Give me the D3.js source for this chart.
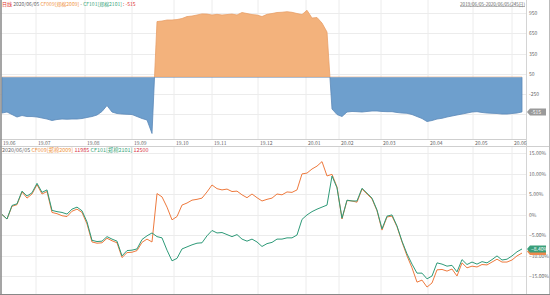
<!DOCTYPE html>
<html>
<head>
<meta charset="utf-8">
<script src="https://cdn.jsdelivr.net/npm/d3@7"></script>
<style>
  body { margin: 0; background: #fff; }
  svg { display: block; font-family: "Noto Sans CJK SC", "Noto Sans", sans-serif; }
</style>
</head>
<body>
<svg width="550" height="295"></svg>
<script>
// month ticks (position in sample index) and labels
var monthLabels = ["19.06","19.07","19.08","19.09","19.10","19.11","19.12","20.01","20.02","20.03","20.04","20.05","20.06"];
var monthIdx = [0, 7, 16.8, 26.2, 34.6, 42.2, 51.4, 61, 67.6, 76, 85.4, 94.4, 102.2];

// spread CF009 - CF101 (price points)
var spread = [
  -532,-517,-554,-591,-569,-584,-584,-591,-606,-621,
  -643,-628,-621,-624,-621,-621,-613,-598,-584,-561,
  -509,-421,-517,-539,-547,-551,-554,-584,-613,-635,
  -835, 823, 831, 846, 846, 853, 868, 897, 905, 920,
   937, 934, 920, 930, 920, 927, 934, 920, 957, 942,
   927, 920, 897, 930, 942, 957, 961, 969, 960, 942,
   927, 990, 875, 883, 801, 668,-472,-554,-584,-517,
  -509,-512,-517,-509,-502,-502,-509,-512,-512,-524,
  -532,-536,-554,-584,-613,-658,-643,-621,-610,-591,
  -576,-561,-547,-532,-517,-512,-524,-532,-536,-539,
  -547,-547,-539,-532,-515
];

// percent change, CF009
var cf009 = [
   0.0,-1.1, 2.0, 2.4, 5.5, 4.0, 5.0, 7.3, 5.0, 5.6,
   0.5, 0.2,-0.3,-0.5, 0.8, 1.3, 0.5,-2.3,-6.7,-7.0,
  -6.9,-5.8,-6.4,-6.9,-10.5,-9.3,-9.2,-8.8,-6.8,-6.0,
  -6.7, 5.1, 4.3, 1.8,-1.3,-0.5, 2.3, 2.8, 3.5, 3.7,
   4.0, 5.5, 7.2, 6.3, 6.0, 6.2, 5.6, 5.7, 4.8, 4.1,
   5.0, 4.1, 3.3, 3.7, 4.0, 5.0, 4.8, 5.5, 5.4, 6.0,
   9.9,10.1,11.1,11.8,12.9, 9.4, 9.8, 6.7,-1.1, 3.4,
   3.3, 3.0, 6.2, 5.0, 3.8, 0.9,-3.8,-0.6,-0.4,-3.0,
  -6.7,-10.1,-13.0,-16.5,-16.0,-17.7,-16.7,-13.5,-13.4,-13.8,
  -13.3,-15.0,-11.8,-13.0,-12.6,-12.8,-12.2,-12.3,-11.6,-10.9,
  -11.6,-11.6,-11.1,-10.1,-9.4
];

// percent change, CF101
var cf101 = [
   0.0,-1.1, 2.2, 2.6, 5.7, 4.5, 5.3, 7.6, 5.4, 6.0,
   1.0, 0.7, 0.5, 0.1, 1.3, 1.8, 0.9,-1.8,-6.3,-6.6,
  -6.5,-5.4,-6.0,-6.5,-10.1,-8.8,-8.7,-8.4,-6.1,-5.2,
  -4.5,-5.4,-5.7,-8.7,-11.3,-10.7,-8.4,-7.9,-7.4,-7.0,
  -6.9,-5.2,-3.9,-4.5,-4.4,-4.9,-5.4,-4.9,-6.0,-6.5,
  -6.0,-6.7,-7.8,-7.1,-6.8,-6.0,-6.0,-5.7,-5.7,-5.0,
  -1.2,-0.1, 0.7, 1.3, 1.8, 2.3, 9.4, 6.5,-0.9, 3.5,
   3.3, 3.3, 6.4, 5.2, 4.0, 1.1,-3.5,-0.4,-0.1,-2.8,
  -6.5,-9.6,-12.1,-14.3,-14.3,-15.7,-15.0,-11.8,-12.1,-12.6,
  -12.4,-14.0,-11.0,-12.2,-11.6,-12.1,-11.5,-11.8,-11.0,-10.1,
  -11.1,-10.9,-10.1,-9.1,-8.4
];

var topTicks = [950, 650, 350, 50, -250, -550];
var botTicks = [15, 10, 5, 0, -5, -10, -15];

var svg = d3.select("svg");
var W = 550, H = 295, plotR = 526;

var x = d3.scaleLinear().domain([0, spread.length - 1]).range([2, 522]);
var yTop = d3.scaleLinear().domain([-250, 950]).range([94, 13]);
var yBot = d3.scaleLinear().domain([-15, 15]).range([276, 153]);

var gridColor = "#ececec", textColor = "#666";

// ---------- grids ----------
var grid = svg.append("g");
grid.selectAll(".vt").data(monthIdx).enter().append("line")
  .attr("x1", d => x(d) - 1).attr("x2", d => x(d) - 1)
  .attr("y1", 0).attr("y2", 139)
  .attr("stroke", gridColor).attr("stroke-width", 1);
grid.selectAll(".vb").data(monthIdx).enter().append("line")
  .attr("x1", d => x(d) - 1).attr("x2", d => x(d) - 1)
  .attr("y1", 146).attr("y2", H)
  .attr("stroke", gridColor).attr("stroke-width", 1);
grid.selectAll(".ht").data(topTicks).enter().append("line")
  .attr("x1", 0).attr("x2", plotR)
  .attr("y1", d => Math.round(yTop(d)) + 0.5).attr("y2", d => Math.round(yTop(d)) + 0.5)
  .attr("stroke", gridColor);
grid.selectAll(".hb").data(botTicks).enter().append("line")
  .attr("x1", 0).attr("x2", plotR)
  .attr("y1", d => Math.round(yBot(d)) + 0.5).attr("y2", d => Math.round(yBot(d)) + 0.5)
  .attr("stroke", gridColor);

// ---------- top: spread area ----------
var defs = svg.append("defs");
defs.append("clipPath").attr("id", "above").append("rect")
  .attr("x", 0).attr("y", 0).attr("width", plotR).attr("height", yTop(0));
defs.append("clipPath").attr("id", "below").append("rect")
  .attr("x", 0).attr("y", yTop(0)).attr("width", plotR).attr("height", 139 - yTop(0));

var area = d3.area()
  .x((d, i) => x(i))
  .y0(yTop(0))
  .y1(d => yTop(d));

svg.append("path").datum(spread)
  .attr("clip-path", "url(#above)")
  .attr("d", area)
  .attr("fill", "#f3b27c")
  .attr("stroke", "#e8a068").attr("stroke-width", 0.8);
svg.append("path").datum(spread)
  .attr("clip-path", "url(#below)")
  .attr("d", area)
  .attr("fill", "#6e9fcd")
  .attr("stroke", "#5a88b8").attr("stroke-width", 0.8);

// ---------- bottom: percentage lines ----------
var line = d3.line()
  .x((d, i) => x(i))
  .y(d => yBot(d));

svg.append("path").datum(cf009)
  .attr("d", line).attr("fill", "none")
  .attr("stroke", "#ee7a3e").attr("stroke-width", 1);
svg.append("path").datum(cf101)
  .attr("d", line).attr("fill", "none")
  .attr("stroke", "#2e9a78").attr("stroke-width", 1);

// ---------- frame / axis lines ----------
svg.append("line").attr("x1", 0).attr("x2", plotR).attr("y1", 139.5).attr("y2", 139.5).attr("stroke", "#cfcfcf");
svg.append("line").attr("x1", 0).attr("x2", W).attr("y1", 146.5).attr("y2", 146.5).attr("stroke", "#cfcfcf");
svg.append("line").attr("x1", plotR + 0.5).attr("x2", plotR + 0.5).attr("y1", 0).attr("y2", H).attr("stroke", "#d4d4d4");
svg.append("line").attr("x1", 1).attr("x2", 1).attr("y1", 0).attr("y2", H).attr("stroke", "#8a8a8a").attr("stroke-width", 1.5);
svg.append("line").attr("x1", W - 0.5).attr("x2", W - 0.5).attr("y1", 0).attr("y2", H).attr("stroke", "#bbb");
svg.append("line").attr("x1", 0).attr("x2", W).attr("y1", H - 0.5).attr("y2", H - 0.5).attr("stroke", "#888");

// month labels
svg.append("g").selectAll("text").data(monthIdx).enter().append("text")
  .attr("x", d => x(d) + 1)
  .attr("y", 145)
  .attr("font-size", "5px")
  .attr("fill", textColor)
  .text((d, i) => monthLabels[i]);

// right axis labels
svg.append("g").selectAll("text").data(topTicks.slice(0, 5)).enter().append("text")
  .attr("x", 529).attr("y", d => yTop(d) + 2)
  .attr("font-size", "5px").attr("fill", textColor)
  .text(d => d);
svg.append("g").selectAll("text").data(botTicks).enter().append("text")
  .attr("x", 529).attr("y", d => yBot(d) + 2)
  .attr("font-size", "5px").attr("fill", textColor)
  .text(d => d === 0 ? "0%" : d3.format(".2f")(d) + "%");

// last value boxes
function lastBox(yv, fill, label) {
  var g = svg.append("g");
  g.append("path")
    .attr("d", "M" + (plotR + 1) + "," + yv + " l3,-3.5 h16 v7 h-16 z")
    .attr("fill", fill);
  if (label !== null) {
    g.append("text").attr("x", plotR + 5).attr("y", yv + 1.8)
      .attr("font-size", "5px").attr("fill", "#fff").text(label);
  }
}
lastBox(yTop(spread[spread.length - 1]), "#9a9a9a", spread[spread.length - 1]);
lastBox(yBot(cf009[cf009.length - 1]) - 1.5, "#ee8a4e", null);
lastBox(yBot(cf101[cf101.length - 1]), "#3a9f7a", d3.format(".2f")(cf101[cf101.length - 1]) + "%");

// ---------- headers ----------
var h1 = svg.append("text").attr("x", 2).attr("y", 6).attr("font-size", "5px");
h1.append("tspan").attr("fill", "#e0302b").text("日线 ");
h1.append("tspan").attr("fill", "#666").text("2020/06/05 ");
h1.append("tspan").attr("fill", "#f0953f").text("CF009[郑棉2009]");
h1.append("tspan").attr("fill", "#666").text(" - ");
h1.append("tspan").attr("fill", "#3aa67a").text("CF101[郑棉2101]");
h1.append("tspan").attr("fill", "#e0302b").text(" : " + spread[spread.length - 1]);

svg.append("text").attr("x", 525).attr("y", 5.5).attr("font-size", "4.6px")
  .attr("text-anchor", "end").attr("fill", "#666")
  .attr("text-decoration", "underline")
  .text("2019/06/05-2020/06/05(245日)");

var h2 = svg.append("text").attr("x", 2).attr("y", 152).attr("font-size", "5.4px");
h2.append("tspan").attr("fill", "#666").text("2020/06/05 ");
h2.append("tspan").attr("fill", "#f0953f").text("CF009[郑棉2009] ");
h2.append("tspan").attr("fill", "#d8333f").text("11985 ");
h2.append("tspan").attr("fill", "#3aa67a").text("CF101[郑棉2101] ");
h2.append("tspan").attr("fill", "#d8333f").text("12500");
</script>
</body>
</html>
